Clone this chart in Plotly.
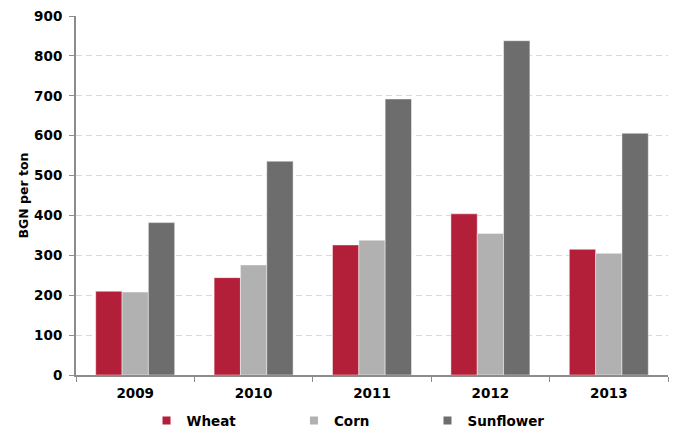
import plotly.graph_objects as go

years = ["2009", "2010", "2011", "2012", "2013"]
wheat = [210, 244, 326, 404, 315]
corn = [208, 276, 338, 355, 305]
sunflower = [382, 536, 692, 838, 606]
y_ticks = [0, 100, 200, 300, 400, 500, 600, 700, 800, 900]

series = [
    ("Wheat", wheat, "#B31E38", "legend", 0.2177),
    ("Corn", corn, "#B1B1B1", "legend2", 0.4368),
    ("Sunflower", sunflower, "#6D6D6D", "legend3", 0.6352),
]

font_family = "DejaVu Sans"
fig = go.Figure()

for name, vals, color, leg, _ in series:
    fig.add_trace(go.Bar(
        x=years, y=vals, name=name, showlegend=False,
        marker=dict(color=color, line=dict(color="rgba(255,255,255,0.45)", width=1)),
    ))
    # legend entry with a small square swatch
    fig.add_trace(go.Scatter(
        x=[None], y=[None], mode="markers", name=name, legend=leg,
        marker=dict(symbol="square", size=8, color=color),
    ))

legend_common = dict(
    orientation="h", yanchor="middle", xanchor="left",
    xref="container", yref="container", y=0.017,
    font=dict(family=font_family, size=13.5, color="#000000", weight="bold"),
    bgcolor="rgba(0,0,0,0)", itemwidth=30,
)
layout_legends = {}
for name, vals, color, leg, xpos in series:
    layout_legends[leg] = dict(legend_common, x=xpos)

fig.update_layout(
    width=673, height=428,
    margin=dict(l=76, r=5, t=16, b=53, autoexpand=False),
    paper_bgcolor="white", plot_bgcolor="white",
    barmode="group", bargap=0.333, bargroupgap=0,
    font=dict(family=font_family, size=13.5, color="#000000"),
    showlegend=True,
    **layout_legends,
)

fig.update_xaxes(
    type="category",
    showline=True, linecolor="#8C8C8C", linewidth=2,
    ticks="outside", tickson="boundaries", ticklen=5, tickcolor="#8C8C8C",
    tickfont=dict(family=font_family, size=13.5, color="#000000", weight="bold"),
    ticklabelstandoff=5,
    showgrid=False,
)
fig.update_yaxes(
    range=[0, 900], tickvals=y_ticks,
    showline=True, linecolor="#8C8C8C", linewidth=2,
    ticks="outside", ticklen=5, tickcolor="#8C8C8C",
    tickfont=dict(family=font_family, size=13.5, color="#000000", weight="bold"),
    ticklabelstandoff=4,
    showgrid=True, gridcolor="#D9D9D9", griddash="6px,4px", gridwidth=1,
    zeroline=False,
    title=dict(text="BGN per ton", font=dict(family=font_family, size=12.5, color="#000000", weight="bold"), standoff=3),
)

fig.write_html("out.html")
